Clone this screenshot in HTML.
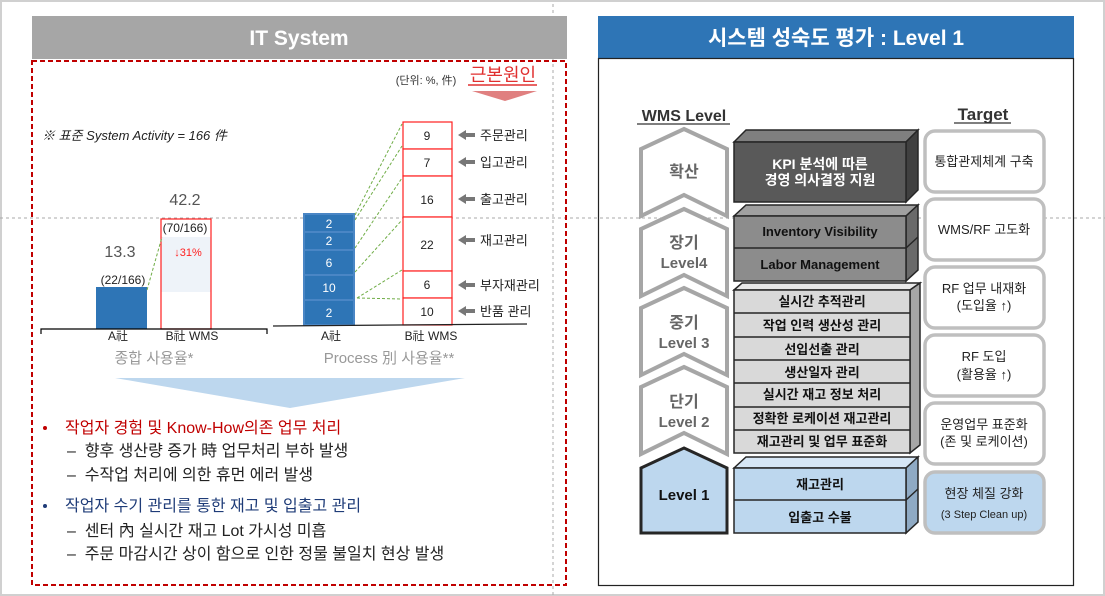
<!DOCTYPE html>
<html><head><meta charset="utf-8"><style>
html,body{margin:0;padding:0;background:#fff}
svg{display:block}
text{font-family:"Liberation Sans","Noto Sans CJK KR",sans-serif}
</style></head><body>
<svg width="1105" height="596" viewBox="0 0 1105 596" xmlns="http://www.w3.org/2000/svg">
<rect x="1" y="1" width="1103" height="594" fill="#fff" stroke="#d0d0d0" stroke-width="2"/>
<line x1="553" y1="4" x2="553" y2="596" stroke="#aaa" stroke-dasharray="3,3"/>
<line x1="0" y1="218" x2="1105" y2="218" stroke="#aaa" stroke-dasharray="3,3"/>

<rect x="32" y="16" width="535" height="43" fill="#a6a6a6"/>
<text x="299" y="45" text-anchor="middle" font-size="21" font-weight="bold" fill="#fff">IT System</text>
<rect x="32" y="61" width="534" height="524" fill="none" stroke="#c00000" stroke-width="2" stroke-dasharray="5,3"/>

<text x="426" y="84" text-anchor="middle" font-size="11" fill="#333">(단위: %, 件)</text>
<text x="503" y="81" text-anchor="middle" font-size="18" fill="#e03030">근본원인</text>
<line x1="468" y1="85" x2="537" y2="85" stroke="#e03030" stroke-width="1.5"/>
<polygon points="472,91 537,91 505,101" fill="#e08080"/>

<text x="42" y="140" font-size="13" font-style="italic" fill="#222">※ 표준 System Activity = 166 件</text>

<rect x="96" y="287" width="51" height="42" fill="#2e75b6"/>
<rect x="161" y="237" width="50" height="55" fill="#eef3f9"/>
<rect x="161" y="219" width="50" height="110" fill="none" stroke="#ff2020" stroke-width="1.2"/>
<line x1="147" y1="290" x2="162" y2="237" stroke="#70ad47" stroke-dasharray="3,2"/>
<text x="120" y="257" text-anchor="middle" font-size="16" fill="#555">13.3</text>
<text x="123" y="284" text-anchor="middle" font-size="12" fill="#222">(22/166)</text>
<text x="185" y="205" text-anchor="middle" font-size="16" fill="#555">42.2</text>
<text x="185" y="232" text-anchor="middle" font-size="12" fill="#222">(70/166)</text>
<text x="188" y="256" text-anchor="middle" font-size="11" fill="#ff2020">↓31%</text>
<path d="M41,334 V329 H267 V334" fill="none" stroke="#000" stroke-width="1.2"/>
<text x="118" y="340" text-anchor="middle" font-size="12" fill="#222">A社</text>
<text x="192" y="340" text-anchor="middle" font-size="12" fill="#222">B社 WMS</text>
<text x="154" y="363" text-anchor="middle" font-size="15" fill="#999">종합 사용율*</text>

<g stroke="#4a86c5" stroke-width="2" fill="#2e75b6">
<rect x="304" y="214" width="50" height="18"/>
<rect x="304" y="232" width="50" height="18"/>
<rect x="304" y="250" width="50" height="25"/>
<rect x="304" y="275" width="50" height="25"/>
<rect x="304" y="300" width="50" height="25"/>
</g>
<g font-size="12" fill="#fff" text-anchor="middle">
<text x="329" y="228">2</text><text x="329" y="245">2</text><text x="329" y="267">6</text><text x="329" y="292">10</text><text x="329" y="317">2</text>
</g>
<g fill="#fff" stroke="#ff2020" stroke-width="1.2">
<rect x="403" y="122" width="49" height="27"/>
<rect x="403" y="149" width="49" height="27"/>
<rect x="403" y="176" width="49" height="41"/>
<rect x="403" y="217" width="49" height="54"/>
<rect x="403" y="271" width="49" height="27"/>
<rect x="403" y="298" width="49" height="27"/>
</g>
<g font-size="12" fill="#222" text-anchor="middle">
<text x="427" y="140">9</text><text x="427" y="167">7</text><text x="427" y="204">16</text><text x="427" y="249">22</text><text x="427" y="289">6</text><text x="427" y="316">10</text>
</g>
<g stroke="#70ad47" stroke-dasharray="3,2" fill="none">
<line x1="355" y1="215" x2="402" y2="124"/>
<line x1="355" y1="220" x2="402" y2="146"/>
<line x1="355" y1="248" x2="402" y2="178"/>
<line x1="355" y1="272" x2="402" y2="220"/>
<line x1="357" y1="298" x2="402" y2="270"/>
<line x1="357" y1="298" x2="402" y2="299"/>
</g>
<g fill="#777">
<polygon points="458,135 466,130 466,133 475,133 475,137 466,137 466,140"/>
<polygon points="458,162 466,157 466,160 475,160 475,164 466,164 466,167"/>
<polygon points="458,199 466,194 466,197 475,197 475,201 466,201 466,204"/>
<polygon points="458,240 466,235 466,238 475,238 475,242 466,242 466,245"/>
<polygon points="458,285 466,280 466,283 475,283 475,287 466,287 466,290"/>
<polygon points="458,311 466,306 466,309 475,309 475,313 466,313 466,316"/>
</g>
<g font-size="13" fill="#222">
<text x="480" y="140">주문관리</text>
<text x="480" y="167">입고관리</text>
<text x="480" y="204">출고관리</text>
<text x="480" y="245">재고관리</text>
<text x="480" y="290">부자재관리</text>
<text x="480" y="316">반품 관리</text>
</g>
<line x1="273" y1="326" x2="527" y2="324" stroke="#222" stroke-width="1.2"/>
<text x="331" y="340" text-anchor="middle" font-size="12" fill="#222">A社</text>
<text x="431" y="340" text-anchor="middle" font-size="12" fill="#222">B社 WMS</text>
<text x="389" y="363" text-anchor="middle" font-size="15" fill="#999">Process 別 사용율**</text>

<polygon points="115,378 465,378 290,408" fill="#bdd7ee"/>

<g font-size="16">
<circle cx="45" cy="428" r="2" fill="#c00000"/>
<text x="65" y="433" fill="#c00000">작업자 경험 및 Know-How의존 업무 처리</text>
<text x="67" y="456" fill="#222">–&#160;&#160;향후 생산량 증가 時 업무처리 부하 발생</text>
<text x="67" y="480" fill="#222">–&#160;&#160;수작업 처리에 의한 휴먼 에러 발생</text>
<circle cx="45" cy="506" r="2" fill="#1f3c78"/>
<text x="65" y="511" fill="#1f3c78">작업자 수기 관리를 통한 재고 및 입출고 관리</text>
<text x="67" y="536" fill="#222">–&#160;&#160;센터 內 실시간 재고 Lot 가시성 미흡</text>
<text x="67" y="559" fill="#222">–&#160;&#160;주문 마감시간 상이 함으로 인한 정물 불일치 현상 발생</text>
</g>

<rect x="598" y="16" width="476" height="42" fill="#2e75b6"/>
<text x="836" y="45" text-anchor="middle" font-size="21" font-weight="bold" fill="#fff">시스템 성숙도 평가 : Level 1</text>
<rect x="598.5" y="58.5" width="475" height="527" fill="none" stroke="#222" stroke-width="1.2"/>

<text x="684" y="121" text-anchor="middle" font-size="16" font-weight="bold" fill="#333">WMS Level</text>
<line x1="637" y1="124" x2="730" y2="124" stroke="#333" stroke-width="1.3"/>
<text x="983" y="120" text-anchor="middle" font-size="17" font-weight="bold" fill="#333">Target</text>
<line x1="954" y1="123" x2="1011" y2="123" stroke="#333" stroke-width="1.3"/>

<g fill="#fff" stroke="#a6a6a6" stroke-width="4" stroke-linejoin="miter">
<polygon points="684,129 727,149 727,216 684,195 641,216 641,149"/>
<polygon points="684,209 727,229 727,296 684,275 641,296 641,229"/>
<polygon points="684,288 727,308 727,375 684,354 641,375 641,308"/>
<polygon points="684,367 727,387 727,454 684,433 641,454 641,387"/>
</g>
<polygon points="684,448 727,468 727,533 641,533 641,468" fill="#bdd7ee" stroke="#262626" stroke-width="3"/>
<g text-anchor="middle" font-weight="bold" fill="#666" font-size="16">
<text x="684" y="177">확산</text>
<text x="684" y="248">장기</text><text x="684" y="268" font-size="15">Level4</text>
<text x="684" y="328">중기</text><text x="684" y="348" font-size="15">Level 3</text>
<text x="684" y="407">단기</text><text x="684" y="427" font-size="15">Level 2</text>
<text x="684" y="500" fill="#111" font-size="15">Level 1</text>
</g>

<g stroke="#262626" stroke-width="1.5">
<polygon points="734,142 746,130 918,130 906,142" fill="#7f7f7f"/>
<polygon points="906,142 918,130 918,190 906,202" fill="#404040"/>
<rect x="734" y="142" width="172" height="60" fill="#595959"/>
<polygon points="734,216 746,205 918,205 906,216" fill="#a0a0a0"/>
<polygon points="906,216 918,205 918,270 906,281" fill="#6a6a6a"/>
<rect x="734" y="216" width="172" height="65" fill="#8c8c8c"/>
<line x1="734" y1="248" x2="906" y2="248"/>
<line x1="906" y1="248" x2="918" y2="237"/>
<polygon points="734,290 742,283 920,283 910,290" fill="#e8e8e8"/>
<polygon points="910,290 920,283 920,445 910,453" fill="#a6a6a6"/>
<rect x="734" y="290" width="176" height="163" fill="#d9d9d9"/>
<line x1="734" y1="313" x2="910" y2="313"/><line x1="734" y1="337" x2="910" y2="337"/>
<line x1="734" y1="360" x2="910" y2="360"/><line x1="734" y1="383" x2="910" y2="383"/>
<line x1="734" y1="407" x2="910" y2="407"/><line x1="734" y1="430" x2="910" y2="430"/>
<polygon points="734,468 746,457 918,457 906,468" fill="#d6e6f5"/>
<polygon points="906,468 918,457 918,522 906,533" fill="#8faac4"/>
<rect x="734" y="468" width="172" height="65" fill="#bdd7ee"/>
<line x1="734" y1="500" x2="906" y2="500"/>
<line x1="906" y1="500" x2="918" y2="489"/>
</g>
<g text-anchor="middle" font-weight="bold">
<text x="820" y="169" font-size="14" fill="#fff">KPI 분석에 따른</text>
<text x="820" y="185" font-size="14" fill="#fff">경영 의사결정 지원</text>
<text x="820" y="236" font-size="13" fill="#111">Inventory Visibility</text>
<text x="820" y="269" font-size="13" fill="#111">Labor Management</text>
<g font-size="13" fill="#111">
<text x="822" y="306">실시간 추적관리</text>
<text x="822" y="330">작업 인력 생산성 관리</text>
<text x="822" y="354">선입선출 관리</text>
<text x="822" y="377">생산일자 관리</text>
<text x="822" y="399">실시간 재고 정보 처리</text>
<text x="822" y="423">정확한 로케이션 재고관리</text>
<text x="822" y="446">재고관리 및 업무 표준화</text>
<text x="820" y="489">재고관리</text>
<text x="820" y="522">입출고 수불</text>
</g>
</g>

<g stroke="#bfbfbf" stroke-width="3.5" fill="#fff">
<rect x="925" y="131" width="119" height="61" rx="10"/>
<rect x="925" y="199" width="119" height="61" rx="10"/>
<rect x="925" y="267" width="119" height="61" rx="10"/>
<rect x="925" y="335" width="119" height="61" rx="10"/>
<rect x="925" y="403" width="119" height="61" rx="10"/>
<rect x="925" y="472" width="119" height="61" rx="10" fill="#bdd7ee"/>
</g>
<g text-anchor="middle" font-size="13" fill="#222">
<text x="984" y="166">통합관제체계 구축</text>
<text x="984" y="234">WMS/RF 고도화</text>
<text x="984" y="293">RF 업무 내재화</text>
<text x="984" y="310">(도입율 ↑)</text>
<text x="984" y="361">RF 도입</text>
<text x="984" y="379">(활용율 ↑)</text>
<text x="984" y="429">운영업무 표준화</text>
<text x="984" y="446">(존 및 로케이션)</text>
<text x="984" y="498">현장 체질 강화</text>
<text x="984" y="518" font-size="11">(3 Step Clean up)</text>
</g>
</svg>
</body></html>
